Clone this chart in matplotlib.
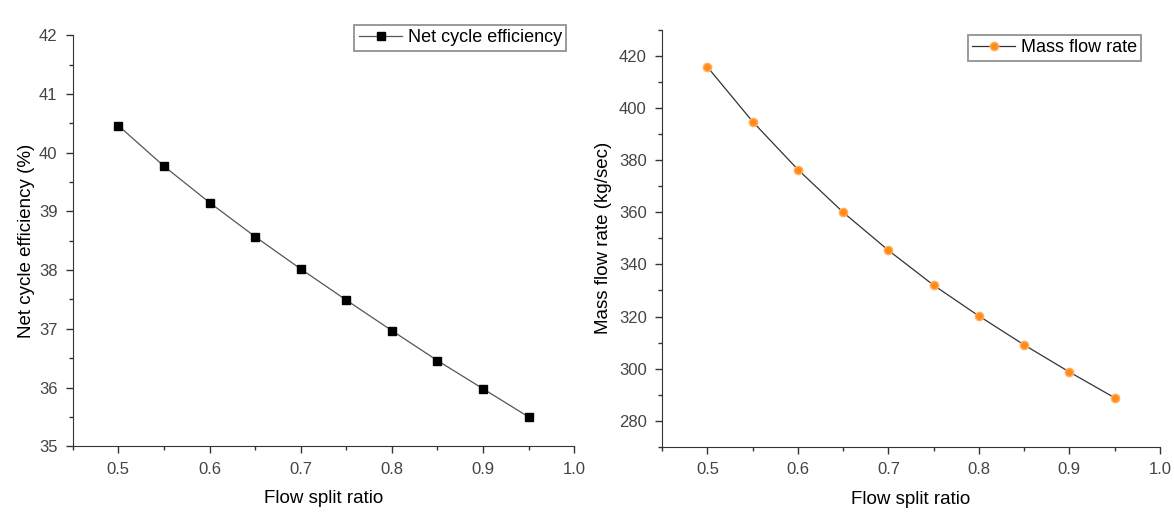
import matplotlib
matplotlib.use("Agg")
import matplotlib.pyplot as plt
from matplotlib.ticker import MultipleLocator

plt.rcParams['font.family'] = ['Liberation Sans', 'DejaVu Sans']

split_ratio = [0.5, 0.55, 0.6, 0.65, 0.7, 0.75, 0.8, 0.85, 0.9, 0.95]
efficiency = [40.46, 39.77, 39.15, 38.57, 38.02, 37.49, 36.97, 36.46, 35.98, 35.50]
mass_flow = [415.8, 394.8, 376.4, 360.0, 345.4, 332.0, 320.2, 309.1, 298.7, 288.8]

fig = plt.figure(figsize=(11.74, 5.25), dpi=100)
ax1 = fig.add_axes([0.062, 0.150, 0.427, 0.783])
ax2 = fig.add_axes([0.564, 0.149, 0.424, 0.794])

ax1.plot(split_ratio, efficiency, color='#555555', linewidth=0.9,
         marker='s', markersize=6, markerfacecolor='black', markeredgecolor='black',
         label='Net cycle efficiency')
ax2.plot(split_ratio, mass_flow, color='#333333', linewidth=0.9,
         marker='o', markersize=6, markerfacecolor='#ff8c1a', markeredgecolor='#ffb060',
         label='Mass flow rate')

ax1.set_xlim(0.45, 1.0)
ax1.set_ylim(35, 42)
ax1.yaxis.set_major_locator(MultipleLocator(1))
ax1.yaxis.set_minor_locator(MultipleLocator(0.5))
ax1.set_ylabel('Net cycle efficiency (%)', fontsize=13.5, labelpad=3)

ax2.set_xlim(0.45, 1.0)
ax2.set_ylim(270, 430)
ax2.yaxis.set_major_locator(MultipleLocator(20))
ax2.yaxis.set_minor_locator(MultipleLocator(10))
ax2.set_ylabel('Mass flow rate (kg/sec)', fontsize=13.5, labelpad=5)

legend_anchor = {ax1: (0.490, 0.970), ax2: (0.980, 0.951)}

for ax in (ax1, ax2):
    ax.xaxis.set_major_locator(MultipleLocator(0.1))
    ax.xaxis.set_minor_locator(MultipleLocator(0.05))
    ax.set_xlabel('Flow split ratio', fontsize=13.5, labelpad=10)
    ax.spines['top'].set_visible(False)
    ax.spines['right'].set_visible(False)
    ax.spines['left'].set_color('#333333')
    ax.spines['bottom'].set_color('#333333')
    ax.tick_params(which='major', length=5, width=1, color='#333333', labelsize=12,
                   labelcolor='#444444', pad=6)
    ax.tick_params(which='minor', length=3, width=1, color='#333333')
    ax.xaxis.set_major_formatter(plt.FormatStrFormatter('%.1f'))
    leg = ax.legend(loc='upper right', fontsize=13, frameon=True, fancybox=False,
                    handlelength=2.4, borderpad=0.25, handletextpad=0.3,
                    bbox_to_anchor=legend_anchor[ax], bbox_transform=fig.transFigure)
    leg.get_frame().set_edgecolor('#777777')
    leg.get_frame().set_linewidth(1.3)

fig.savefig('out.png', dpi=100)
